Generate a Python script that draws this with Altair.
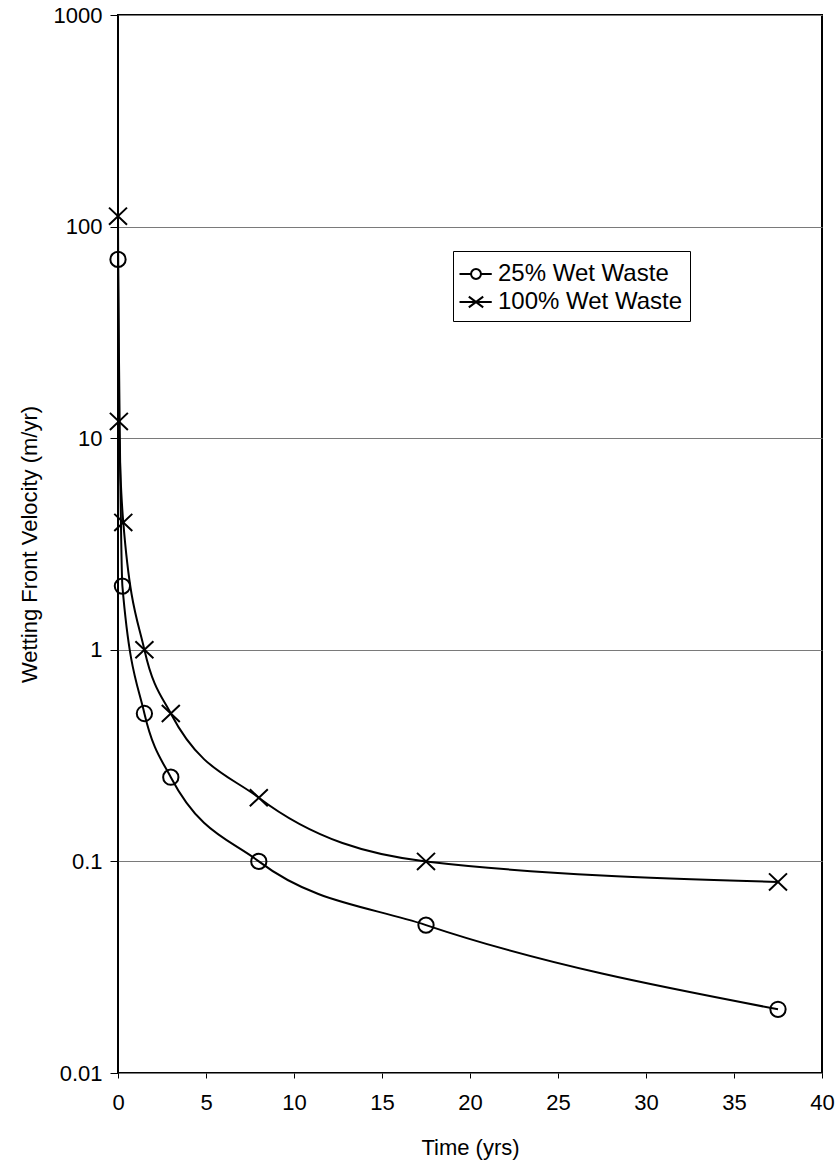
import altair as alt
import pandas as pd

# Data
series_names = ["25% Wet Waste", "100% Wet Waste"]
time_25 = [0.0, 0.25, 1.5, 3.0, 8.0, 17.5, 37.5]
vel_25 = [70, 2.0, 0.5, 0.25, 0.1, 0.05, 0.02]
time_100 = [0.0, 0.05, 0.3, 1.5, 3.0, 8.0, 17.5, 37.5]
vel_100 = [112, 12, 4.0, 1.0, 0.5, 0.2, 0.1, 0.08]
x_ticks = [0, 5, 10, 15, 20, 25, 30, 35, 40]
y_ticks = [0.01, 0.1, 1, 10, 100, 1000]

df = pd.concat([
    pd.DataFrame({"time": time_25, "vel": vel_25, "series": series_names[0], "order": range(len(time_25))}),
    pd.DataFrame({"time": time_100, "vel": vel_100, "series": series_names[1], "order": range(len(time_100))}),
], ignore_index=True)

FONT = "Liberation Sans"
NBSP = "\u00a0"

circle_path = "M-0.85,0A0.85,0.85 0 1,0 0.85,0A0.85,0.85 0 1,0 -0.85,0Z"
cross_path = "M-1,-0.95L1,0.95M-1,0.95L1,-0.95"
legend_circle = "M-1.1,0H-0.33M0.33,0H1.05M-0.33,0A0.33,0.33 0 1,0 0.33,0A0.33,0.33 0 1,0 -0.33,0Z"
legend_cross = "M-1.1,0H1.05M-0.48,-0.36L0.48,0.36M-0.48,0.36L0.48,-0.36"

x_enc = alt.X(
    "time:Q",
    scale=alt.Scale(domain=[0, 40], nice=False, zero=False),
    axis=alt.Axis(
        values=x_ticks, title="Time (yrs)", grid=False, format="d", labelFlush=False,
        labelFont=FONT, labelFontSize=22, labelColor="black", labelPadding=14,
        titleFont=FONT, titleFontSize=22, titleFontWeight="normal", titleColor="black",
        titlePadding=24, tickColor="black", tickSize=5, domain=False,
    ),
)
y_enc = alt.Y(
    "vel:Q",
    scale=alt.Scale(type="log", domain=[0.01, 1000], nice=False),
    axis=alt.Axis(
        values=y_ticks, format="~g", title="Wetting Front Velocity (m/yr)", labelFlush=False,
        grid=True, gridColor="#7a7a7a", gridWidth=1,
        labelFont=FONT, labelFontSize=22, labelColor="black", labelPadding=8,
        titleFont=FONT, titleFontSize=22, titleFontWeight="normal", titleColor="black",
        titlePadding=12, tickColor="black", tickSize=8, domain=False,
    ),
)

lines = alt.Chart(df).mark_line(color="black", strokeWidth=2, interpolate="monotone").encode(
    x=x_enc, y=y_enc, detail="series:N", order="order:Q"
)

points = alt.Chart(df).mark_point(filled=False, color="black", strokeWidth=2, size=324, opacity=1).encode(
    x="time:Q", y="vel:Q",
    shape=alt.Shape("series:N", scale=alt.Scale(domain=series_names, range=[circle_path, cross_path]), legend=None),
)

legend_layer = alt.Chart(df).mark_point(filled=False, color="black", strokeWidth=2, size=900, opacity=0).encode(
    x="time:Q", y="vel:Q",
    shape=alt.Shape(
        "series:N",
        scale=alt.Scale(domain=series_names, range=[legend_circle, legend_cross]),
        legend=alt.Legend(
            title=None, orient="none", legendX=335, legendY=236,
            strokeColor="black", fillColor="white", padding=7,
            labelFont=FONT, labelFontSize=24, labelColor="black", labelOffset=6,
            labelLimit=400,
            symbolSize=900, symbolOpacity=1, symbolStrokeColor="black", symbolStrokeWidth=2,
            symbolFillColor="transparent", rowPadding=0,
            labelExpr="datum.label + '" + NBSP * 3 + "'",
        ),
    ),
)

chart = alt.layer(lines, points, legend_layer).resolve_scale(shape="independent").properties(
    width=704, height=1058,
    autosize=alt.AutoSizeParams(type="none"),
    padding={"left": 118, "top": 15, "right": 15, "bottom": 97},
    background="white",
).configure_view(stroke="black", strokeWidth=2)

chart.save("out.html", embed_options={"renderer": "svg", "actions": False})
